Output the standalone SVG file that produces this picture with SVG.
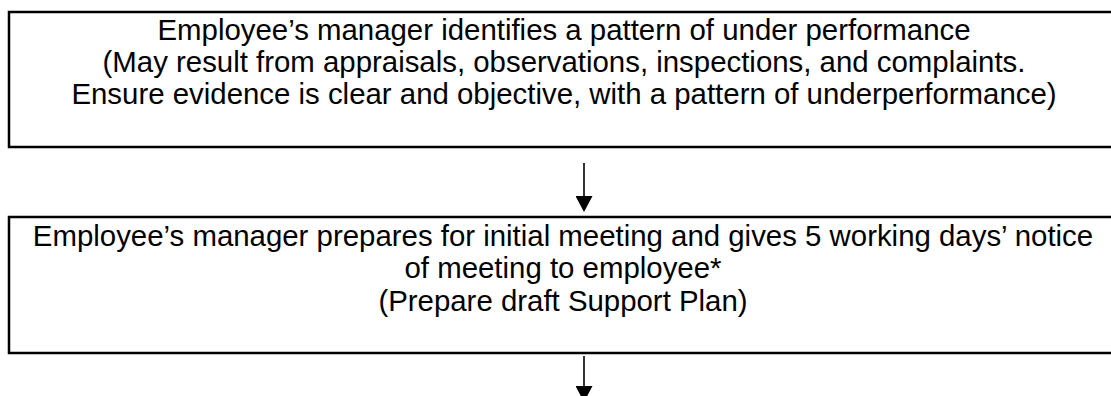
<svg xmlns="http://www.w3.org/2000/svg" width="1111" height="396" viewBox="0 0 1111 396">
  <style>
    .box { fill: #fff; stroke: #000; stroke-width: 2.5; }
    .t { font-family: "Liberation Sans", Arial, sans-serif; font-size: 29.4px; fill: #000; text-anchor: middle; }
    .conn { stroke: #000; stroke-width: 1.6; fill: none; }
  </style>
  <defs>
    <marker id="ah" markerUnits="userSpaceOnUse" markerWidth="16" markerHeight="17" refX="0" refY="8.5" orient="auto" viewBox="0 0 16 17">
      <path d="M0,0 L16,8.5 L0,17 Z" fill="#000"/>
    </marker>
  </defs>
  <rect width="1111" height="396" fill="#fff"/>
  <g id="node1">
    <rect class="box" x="9" y="12" width="1112" height="135"/>
    <text class="t" x="564" y="40">Employee’s manager identifies a pattern of under performance</text>
    <text class="t" x="564" y="72">(May result from appraisals, observations, inspections, and complaints.</text>
    <text class="t" x="564" y="104">Ensure evidence is clear and objective, with a pattern of underperformance)</text>
  </g>
  <g id="node2">
    <rect class="box" x="9" y="217" width="1112" height="136"/>
    <text class="t" x="563" y="246">Employee’s manager prepares for initial meeting and gives 5 working days’ notice</text>
    <text class="t" x="563" y="278">of meeting to employee*</text>
    <text class="t" x="563" y="311">(Prepare draft Support Plan)</text>
  </g>
  <g id="connectors">
    <line class="conn" x1="584" y1="163" x2="584" y2="196" marker-end="url(#ah)"/>
    <line class="conn" x1="584" y1="356" x2="584" y2="386" marker-end="url(#ah)"/>
  </g>
</svg>
